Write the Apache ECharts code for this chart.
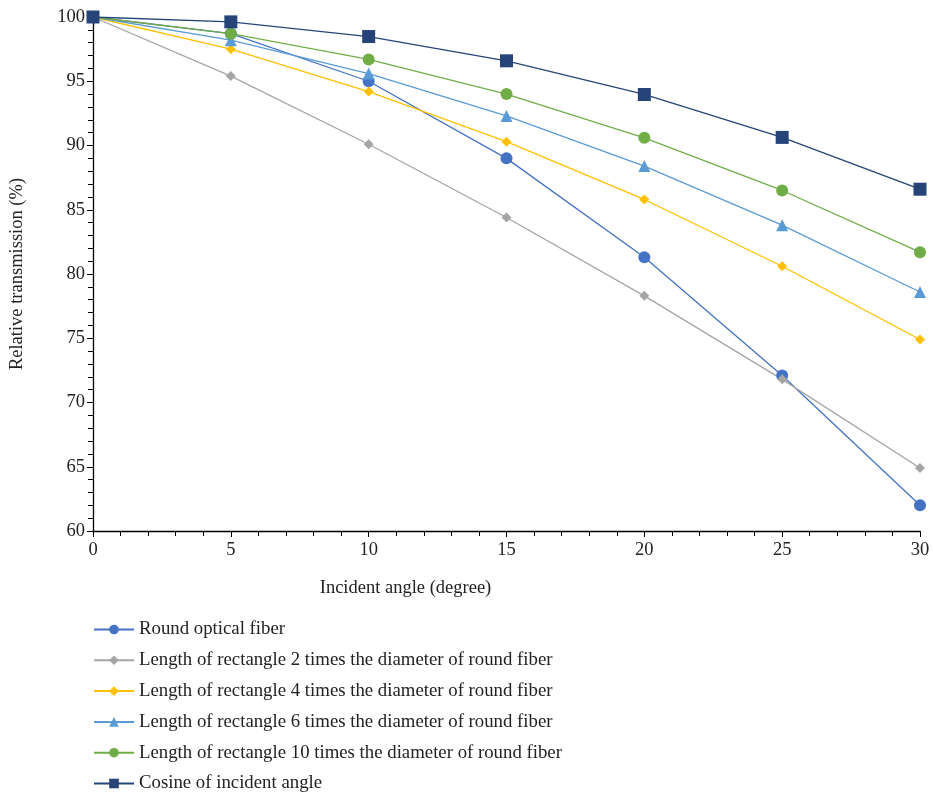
<!DOCTYPE html>
<html>
<head>
<meta charset="utf-8">
<script src="https://cdn.jsdelivr.net/npm/echarts@6/dist/echarts.min.js"></script>
<style>
  html, body { margin: 0; padding: 0; background: #fff; }
  #chart { width: 933px; height: 797px; }
</style>
</head>
<body>
<div id="chart"></div>
<script>
// incident angle (degree)
var angles = [0, 5, 10, 15, 20, 25, 30];

var roundFiber = [100, 98.7, 95.0, 89.0, 81.3, 72.1, 62.0];
var rect2 = [100, 95.4, 90.1, 84.4, 78.3, 71.8, 64.9];
var rect4 = [100, 97.5, 94.2, 90.3, 85.8, 80.6, 74.9];
var rect6 = [100, 98.2, 95.6, 92.3, 88.4, 83.8, 78.6];
var rect10 = [100, 98.7, 96.7, 94.0, 90.6, 86.5, 81.7];
var cosine = [100, 99.62, 98.48, 96.59, 93.97, 90.63, 86.6];

var names = [
    'Round optical fiber',
    'Length of rectangle 2 times the diameter of round fiber',
    'Length of rectangle 4 times the diameter of round fiber',
    'Length of rectangle 6 times the diameter of round fiber',
    'Length of rectangle 10 times the diameter of round fiber',
    'Cosine of incident angle'
];

var fontFam = '"Liberation Serif", "DejaVu Serif", serif';

function pairs(vals) {
    return angles.map(function (a, i) { return [a, vals[i]]; });
}

function line(name, vals, color, symbol, size) {
    return {
        name: name,
        type: 'line',
        data: pairs(vals),
        symbol: symbol,
        symbolSize: size,
        lineStyle: { color: color, width: 1.3 },
        itemStyle: { color: color },
        emphasis: { disabled: true }
    };
}

var chart = echarts.init(document.getElementById('chart'));
chart.setOption({
    animation: false,
    textStyle: { fontFamily: fontFam },
    legend: {
        orient: 'vertical',
        left: 93,
        top: 620,
        padding: 0,
        height: 180,
        itemWidth: 40,
        itemHeight: 12,
        itemGap: 11.8,
        textStyle: { fontSize: 18.8, color: '#222', fontFamily: fontFam },
        data: names
    },
    grid: {
        left: 93,
        right: 13,
        top: 17,
        bottom: 266,
        outerBoundsMode: 'none'
    },
    xAxis: {
        type: 'value',
        min: 0,
        max: 30,
        interval: 5,
        name: 'Incident angle (degree)',
        nameLocation: 'middle',
        nameGap: 48,
        nameTextStyle: { fontSize: 18.5, color: '#222', fontFamily: fontFam, padding: [0, 202, 0, 0] },
        axisLine: { lineStyle: { color: '#000', width: 1.3 } },
        axisTick: { length: 6, lineStyle: { color: '#000' } },
        minorTick: { show: true, splitNumber: 5, length: 5, lineStyle: { color: '#000' } },
        axisLabel: { fontSize: 18.5, color: '#222', margin: 10, fontFamily: fontFam },
        splitLine: { show: false }
    },
    yAxis: {
        type: 'value',
        min: 60,
        max: 100,
        interval: 5,
        name: 'Relative transmission (%)',
        nameLocation: 'middle',
        nameGap: 66,
        nameTextStyle: { fontSize: 18.5, color: '#222', fontFamily: fontFam },
        axisLine: { show: true, lineStyle: { color: '#000', width: 1.3 } },
        axisTick: { show: true, length: 6, lineStyle: { color: '#000' } },
        minorTick: { show: true, splitNumber: 5, length: 5, lineStyle: { color: '#000' } },
        axisLabel: { fontSize: 18.5, color: '#222', margin: 8, fontFamily: fontFam },
        splitLine: { show: false }
    },
    series: [
        line(names[0], roundFiber, '#4472C4', 'circle', 12),
        line(names[1], rect2, '#A5A5A5', 'diamond', 10),
        line(names[2], rect4, '#FFC000', 'diamond', 10),
        line(names[3], rect6, '#5B9BD5', 'triangle', 12),
        line(names[4], rect10, '#70AD47', 'circle', 12),
        line(names[5], cosine, '#264478', 'rect', 13)
    ]
});
</script>
</body>
</html>
